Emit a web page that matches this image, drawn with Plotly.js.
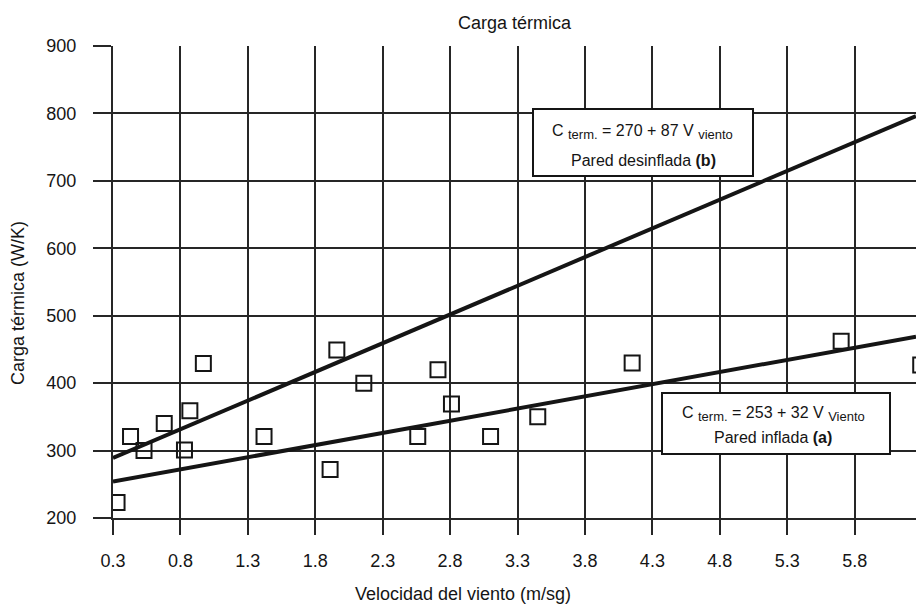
<!DOCTYPE html>
<html>
<head>
<meta charset="utf-8">
<script src="https://cdn.plot.ly/plotly-3.0.1.min.js"></script>
<style>html,body{margin:0;padding:0;background:#fff;}#chart{width:916px;height:606px;}</style>
</head>
<body>
<div id="chart"></div>
<script>
// Measured points (velocidad del viento, carga térmica)
const pointsX = [0.33, 0.43, 0.53, 0.68, 0.83, 0.87, 0.97, 1.42, 1.91, 1.96, 2.16, 2.56, 2.71, 2.81, 3.10, 3.45, 4.15, 5.70, 6.29];
const pointsY = [223, 321, 300, 340, 301, 359, 429, 321, 272, 449, 400, 321, 420, 369, 321, 350, 430, 462, 427];

// Fitted lines as drawn (end points)
const lineX = [0.3, 6.255];
const lineA = [254, 469];   // Pared inflada (a)
const lineB = [289, 796];   // Pared desinflada (b)

// Tick labels
const xTicks = [0.3, 0.8, 1.3, 1.8, 2.3, 2.8, 3.3, 3.8, 4.3, 4.8, 5.3, 5.8];
const yTicks = [200, 300, 400, 500, 600, 700, 800, 900];

const FONT = '"Liberation Sans", Arial, sans-serif';
const INK = '#151515';
const GRID = '#262626';

// pixel helpers for placing annotation boxes (plot area 113..916 x 46..518)
const px = v => (v - 113) / 803;
const py = v => (518 - v) / 472;

const traces = [
  {x: lineX, y: lineA, mode: 'lines', line: {color: INK, width: 4}, hoverinfo: 'skip', showlegend: false},
  {x: lineX, y: lineB, mode: 'lines', line: {color: INK, width: 4}, hoverinfo: 'skip', showlegend: false},
  {x: pointsX, y: pointsY, mode: 'markers', cliponaxis: true,
   marker: {symbol: 'square-open', size: 15, color: INK, line: {width: 2, color: INK}}, showlegend: false}
];

const SUB = t => '<sub><span style="font-size:13px">' + t + '</span></sub>';
const boxFont = {family: FONT, size: 16, color: INK};

const layout = {
  width: 916, height: 606,
  margin: {l: 113, r: 0, t: 46, b: 88, pad: 0},
  paper_bgcolor: '#fff', plot_bgcolor: '#fff',
  font: {family: FONT, size: 18, color: INK},
  title: {text: 'Carga térmica', font: {family: FONT, size: 18, color: INK},
          xref: 'paper', x: 0.5, xanchor: 'center', yref: 'container', y: 1 - 23/606, yanchor: 'middle'},
  xaxis: {
    range: [0.3, 6.255], tickvals: xTicks, ticktext: xTicks.map(v => v.toFixed(1)),
    showgrid: true, gridcolor: GRID, gridwidth: 2,
    showline: true, linecolor: GRID, linewidth: 2,
    ticks: 'outside', ticklen: 15, tickwidth: 2, tickcolor: GRID,
    ticklabelstandoff: 10,
    tickfont: {family: FONT, size: 18, color: INK}, zeroline: false
  },
  yaxis: {
    range: [200, 900], tickvals: yTicks,
    showgrid: true, gridcolor: GRID, gridwidth: 2,
    showline: true, linecolor: GRID, linewidth: 2,
    ticks: 'outside', ticklen: 18, tickwidth: 2, tickcolor: GRID,
    ticklabelstandoff: 13,
    tickfont: {family: FONT, size: 18, color: INK}, zeroline: false
  },
  shapes: [
    {type: 'rect', xref: 'paper', yref: 'paper', x0: px(533), x1: px(753), y0: py(176), y1: py(109),
     fillcolor: '#fff', line: {color: INK, width: 2}, layer: 'above'},
    {type: 'rect', xref: 'paper', yref: 'paper', x0: px(662), x1: px(890), y0: py(454), y1: py(393),
     fillcolor: '#fff', line: {color: INK, width: 2}, layer: 'above'}
  ],
  annotations: [
    {xref: 'paper', yref: 'paper', x: px(463), y: py(594), xanchor: 'center', yanchor: 'middle',
     text: 'Velocidad del viento (m/sg)', showarrow: false, font: {family: FONT, size: 18, color: INK}},
    {xref: 'paper', yref: 'paper', x: px(18), y: py(303), xanchor: 'center', yanchor: 'middle',
     text: 'Carga térmica (W/K)', textangle: -90, showarrow: false, font: {family: FONT, size: 18, color: INK}},
    {xref: 'paper', yref: 'paper', x: px(642), y: py(132), xanchor: 'center', yanchor: 'middle',
     text: 'C ' + SUB('term.') + ' = 270 + 87 V ' + SUB('viento'), showarrow: false, font: boxFont},
    {xref: 'paper', yref: 'paper', x: px(643), y: py(160), xanchor: 'center', yanchor: 'middle',
     text: 'Pared desinflada <b>(b)</b>', showarrow: false, font: boxFont},
    {xref: 'paper', yref: 'paper', x: px(773), y: py(414), xanchor: 'center', yanchor: 'middle',
     text: 'C ' + SUB('term.') + ' = 253 + 32 V ' + SUB('Viento'), showarrow: false, font: boxFont},
    {xref: 'paper', yref: 'paper', x: px(773), y: py(437), xanchor: 'center', yanchor: 'middle',
     text: 'Pared inflada <b>(a)</b>', showarrow: false, font: boxFont}
  ]
};

Plotly.newPlot('chart', traces, layout, {displayModeBar: false, staticPlot: true});
</script>
</body>
</html>
